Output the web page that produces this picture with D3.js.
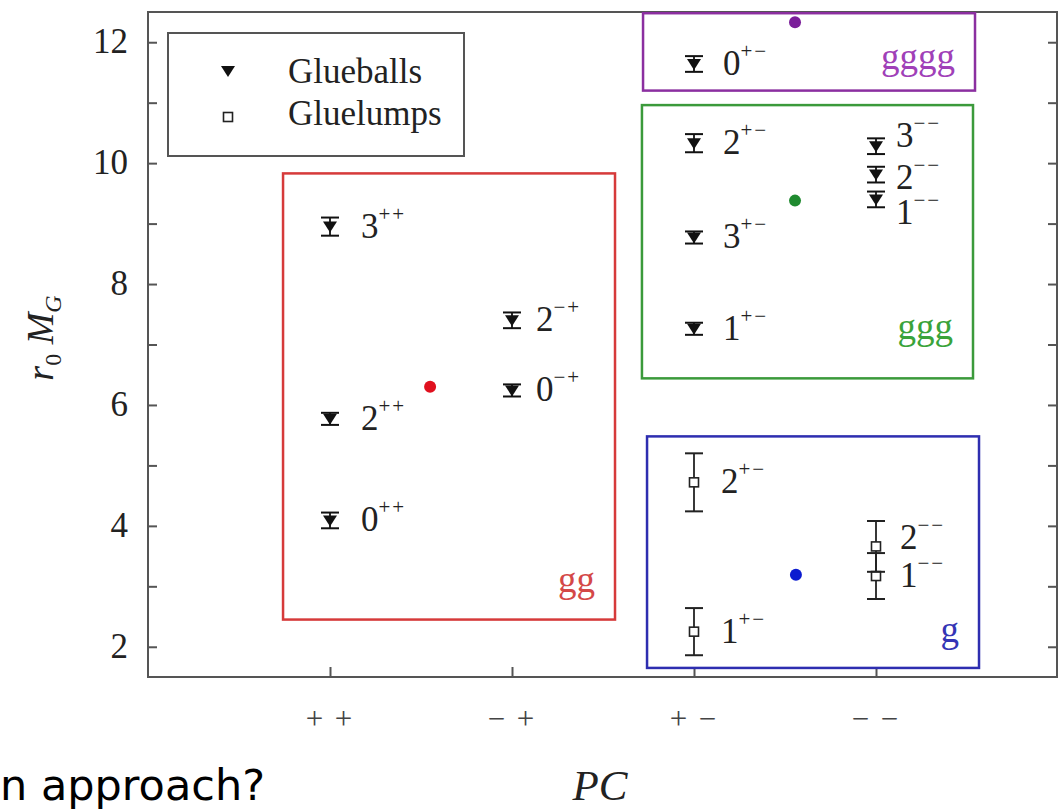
<!DOCTYPE html>
<html><head><meta charset="utf-8">
<script src="https://cdn.jsdelivr.net/npm/d3@7"></script>
<style>body{margin:0;background:#fff}svg{display:block}</style>
</head><body><svg id="c" width="1060" height="812"></svg>
<script>
// ---------- data ----------
const categories = ["++", "−+", "+−", "−−"];
const categoryTickLabels = ["+ +", "− +", "+ −", "− −"];
const yTicks = [2, 4, 6, 8, 10, 12];
const yMinorTicks = [3, 5, 7, 9, 11];

// glueballs (filled triangles)
const glueballJ = ["0", "2", "3", "0", "2", "0", "2", "3", "1", "3", "2", "1"];
const glueballPC = ["++", "++", "++", "−+", "−+", "+−", "+−", "+−", "+−", "−−", "−−", "−−"];
const glueballValues = [4.09, 5.77, 8.95, 6.24, 7.40, 11.64, 10.33, 8.77, 7.26, 10.28, 9.81, 9.40];
const glueballErrors = [0.13, 0.10, 0.15, 0.10, 0.13, 0.13, 0.15, 0.10, 0.10, 0.13, 0.13, 0.13];

// gluelumps (open squares)
const gluelumpJ = ["1", "2", "1", "2"];
const gluelumpPC = ["+−", "+−", "−−", "−−"];
const gluelumpValues = [2.25, 4.72, 3.17, 3.66];
const gluelumpErrors = [0.39, 0.48, 0.38, 0.42];

// constituent-gluon groups: extent in (PC index, r0 MG) units and mean point
const groupNames = ["gg", "ggg", "gggg", "g"];
const groupXMin = [0.742, 2.714, 2.72, 2.742];
const groupXMax = [2.566, 4.533, 4.544, 4.566];
const groupYMin = [2.45, 6.44, 11.20, 1.65];
const groupYMax = [9.83, 10.96, 12.48, 5.48];
const groupMeanX = [1.55, 3.555, 3.555, 3.56];
const groupMeanY = [6.30, 9.38, 12.33, 3.19];

const legendLabels = ["Glueballs", "Gluelumps"];

// ---------- layout / style ----------
const serif = "'Liberation Serif','Times New Roman',serif";
const groupStroke = {gg: "#d63a3a", ggg: "#3b9a3b", gggg: "#8b2fa0", g: "#2e2eb0"};
const groupText = {gg: "#d44848", ggg: "#3aa33a", gggg: "#a040b8", g: "#3535b5"};
const groupDot = {gg: "#e0101e", ggg: "#1f8a2f", gggg: "#7b1f9a", g: "#0b1bd0"};
const gbLabelDx = {"++": 31, "−+": 24, "+−": 29, "−−": 20};
const glLabelDx = {"+−": 27, "−−": 24};
const gbLabelDy = {"3−−": -10, "2−−": 3, "1−−": 14};
const glLabelDy = {"2−−": -8};

const svg = d3.select("#c");
svg.append("rect").attr("width", 1060).attr("height", 812).attr("fill", "#fff");

const x = d3.scaleLinear().domain([0, 5]).range([148, 1058]);
const y = d3.scaleLinear().domain([1.5, 12.5]).range([677, 12]);
const xc = pc => x(categories.indexOf(pc) + 1);

// frame
const frameColor = "#555";
svg.append("rect").attr("x", x(0)).attr("y", y(12.5)).attr("width", x(5) - x(0) - 1).attr("height", y(1.5) - y(12.5))
  .attr("fill", "none").attr("stroke", frameColor).attr("stroke-width", 2);

// y axes (left & right, inward ticks)
const yAxisL = d3.axisRight(y).tickValues(yTicks.concat(yMinorTicks)).tickSize(9).tickFormat("");
const gl = svg.append("g").attr("transform", `translate(${x(0)},0)`).call(yAxisL);
const yAxisR = d3.axisLeft(y).tickValues(yTicks.concat(yMinorTicks)).tickSize(9).tickFormat("");
const gr = svg.append("g").attr("transform", `translate(${x(5) - 1},0)`).call(yAxisR);
[gl, gr].forEach(g => { g.select(".domain").remove(); g.selectAll("line").attr("stroke", frameColor).attr("stroke-width", 2); });

svg.append("g").selectAll("text").data(yTicks).join("text")
  .attr("x", 128).attr("y", d => y(d)).attr("dy", 11)
  .attr("text-anchor", "end").attr("font-family", serif).attr("font-size", 35).attr("fill", "#222")
  .text(d => d);

// x axis (inward ticks)
const xAxis = d3.axisTop(x).tickValues([1, 2, 3, 4]).tickSize(10).tickFormat("");
const gx = svg.append("g").attr("transform", `translate(0,${y(1.5)})`).call(xAxis);
gx.select(".domain").remove();
gx.selectAll("line").attr("stroke", frameColor).attr("stroke-width", 2);

svg.append("g").selectAll("text").data(categoryTickLabels).join("text")
  .attr("x", (d, i) => x(i + 1)).attr("y", 729)
  .attr("text-anchor", "middle").attr("font-family", serif).attr("font-size", 31).attr("fill", "#444")
  .attr("letter-spacing", 2)
  .text(d => d);

// axis titles
svg.append("text").attr("x", 600).attr("y", 800).attr("text-anchor", "middle")
  .attr("font-family", serif).attr("font-style", "italic").attr("font-size", 43).attr("fill", "#222").text("PC");

const yt = svg.append("text").attr("transform", "translate(53,338) rotate(-90)").attr("text-anchor", "middle")
  .attr("font-family", serif).attr("font-style", "italic").attr("font-size", 38).attr("fill", "#222");
yt.append("tspan").text("r");
yt.append("tspan").attr("dy", 8).attr("font-size", 24).attr("font-style", "normal").text("0");
yt.append("tspan").attr("dy", -8).text(" M");
yt.append("tspan").attr("dy", 8).attr("font-size", 24).text("G");

// group boxes
groupNames.forEach((n, i) => {
  svg.append("rect")
    .attr("x", x(groupXMin[i])).attr("y", y(groupYMax[i]))
    .attr("width", x(groupXMax[i]) - x(groupXMin[i])).attr("height", y(groupYMin[i]) - y(groupYMax[i]))
    .attr("fill", "none").attr("stroke", groupStroke[n]).attr("stroke-width", 2.5);
  svg.append("text")
    .attr("x", x(groupXMax[i]) - 20).attr("y", y(groupYMin[i]) - (n === "gg" ? 28 : n === "g" ? 26 : n === "ggg" ? 39 : 22))
    .attr("text-anchor", "end").attr("font-family", serif).attr("font-size", 37).attr("fill", groupText[n]).text(n);
  svg.append("circle").attr("cx", x(groupMeanX[i])).attr("cy", y(groupMeanY[i])).attr("r", 6)
    .attr("fill", groupDot[n]);
});

// glueballs
const tri = "M-7,-5L7,-5L0,6Z";
glueballValues.forEach((v, i) => {
  const cx = xc(glueballPC[i]);
  const g = svg.append("g");
  const e = glueballErrors[i];
  g.append("line").attr("x1", cx).attr("x2", cx).attr("y1", y(v - e)).attr("y2", y(v + e)).attr("stroke", "#111").attr("stroke-width", 1.8);
  [v - e, v + e].forEach(w => g.append("line").attr("x1", cx - 9).attr("x2", cx + 9).attr("y1", y(w)).attr("y2", y(w)).attr("stroke", "#111").attr("stroke-width", 2));
  g.append("path").attr("d", tri).attr("transform", `translate(${cx},${y(v)})`).attr("fill", "#111");
  const key = glueballJ[i] + glueballPC[i];
  const t = svg.append("text").attr("x", cx + gbLabelDx[glueballPC[i]]).attr("y", y(v) + 11 + (gbLabelDy[key] || 0))
    .attr("font-family", serif).attr("font-size", 35).attr("fill", "#222");
  t.append("tspan").text(glueballJ[i]);
  t.append("tspan").attr("dy", -17).attr("font-size", 21).attr("letter-spacing", 2).text(glueballPC[i]);
});

// gluelumps
gluelumpValues.forEach((v, i) => {
  const cx = xc(gluelumpPC[i]);
  const e = gluelumpErrors[i];
  const g = svg.append("g");
  g.append("line").attr("x1", cx).attr("x2", cx).attr("y1", y(v - e)).attr("y2", y(v + e)).attr("stroke", "#222").attr("stroke-width", 1.8);
  [v - e, v + e].forEach(w => g.append("line").attr("x1", cx - 9).attr("x2", cx + 9).attr("y1", y(w)).attr("y2", y(w)).attr("stroke", "#222").attr("stroke-width", 2));
  g.append("rect").attr("x", cx - 4.5).attr("y", y(v) - 4.5).attr("width", 9).attr("height", 9)
    .attr("fill", "#fff").attr("stroke", "#222").attr("stroke-width", 1.6);
  const key = gluelumpJ[i] + gluelumpPC[i];
  const t = svg.append("text").attr("x", cx + glLabelDx[gluelumpPC[i]]).attr("y", y(v) + 11 + (glLabelDy[key] || 0))
    .attr("font-family", serif).attr("font-size", 35).attr("fill", "#222");
  t.append("tspan").text(gluelumpJ[i]);
  t.append("tspan").attr("dy", -17).attr("font-size", 21).attr("letter-spacing", 2).text(gluelumpPC[i]);
});

// legend
const lg = svg.append("g");
lg.append("rect").attr("x", 168).attr("y", 33).attr("width", 296).attr("height", 123)
  .attr("fill", "#fff").attr("stroke", frameColor).attr("stroke-width", 2);
lg.append("path").attr("d", tri).attr("transform", "translate(228,71)").attr("fill", "#111");
lg.append("rect").attr("x", 223.5).attr("y", 112.5).attr("width", 9).attr("height", 9)
  .attr("fill", "#fff").attr("stroke", "#222").attr("stroke-width", 1.6);
lg.selectAll("text.l").data(legendLabels).join("text").attr("class", "l")
  .attr("x", 288).attr("y", (d, i) => 83 + i * 42)
  .attr("font-family", serif).attr("font-size", 35).attr("fill", "#222").text(d => d);

// stray caption fragment at bottom left
svg.append("text").attr("x", 0).attr("y", 800).attr("font-family", "'DejaVu Sans',sans-serif")
  .attr("font-size", 43).attr("fill", "#000").text("n approach?");
</script>
</body></html>
